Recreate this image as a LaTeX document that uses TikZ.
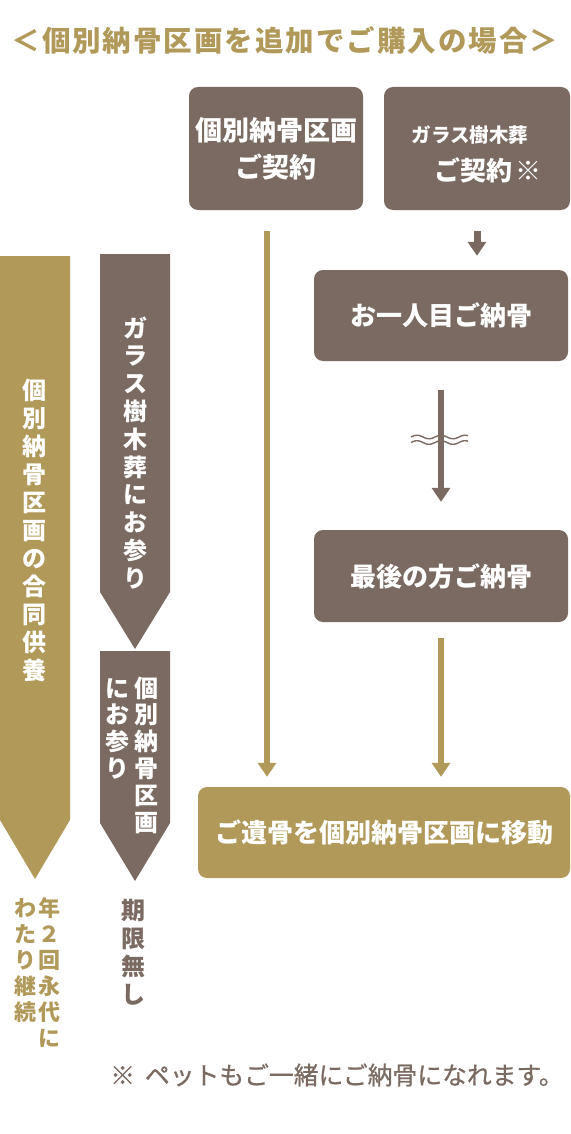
\documentclass[tikz,border=0pt]{standalone}
\usepackage{fontspec}
\setmainfont{Noto Sans CJK JP}
\newfontfamily\jpmed[FakeBold=0.8]{Noto Sans CJK JP}
\usetikzlibrary{arrows.meta}
\definecolor{brn}{HTML}{7A6A61}
\definecolor{gld}{HTML}{B1995A}
\begin{document}
\begin{tikzpicture}[x=1pt,y=-1pt,
  box/.style={rounded corners=9pt, inner sep=0pt, text=white, font=\bfseries\fontsize{26}{26}\selectfont},
  txt/.style={inner sep=0pt},
  vt/.style={inner sep=0pt, text height=21pt, text depth=3pt, font=\bfseries\fontsize{24}{24}\selectfont},
  arr/.style={line width=6pt, -{Triangle[width=18pt,length=14pt]}}]
\useasboundingbox (0,0) rectangle (570,1134);
% title
\node[txt, text=gld, font=\bfseries\fontsize{28.5}{28.5}\selectfont\addfontfeatures{LetterSpace=7}] (title) at (285,40) {＜個別納骨区画を追加でご購入の場合＞};
% boxes
\node[box, fill=brn, minimum width=174pt, minimum height=123pt, align=center,
  font=\bfseries\fontsize{27}{37}\selectfont] (b1) at (276,148.5) {個別納骨区画\\ご契約};
\node[box, fill=brn, minimum width=186pt, minimum height=123pt] (b2) at (477,148.5) {};
\node[txt, text=white, font=\bfseries\fontsize{19.5}{20}\selectfont] (b2a) at (470,135) {ガラス樹木葬};
\node[txt, text=white, font=\bfseries\fontsize{26}{26}\selectfont] (b2b) at (488,170) {ご契約\hspace{4pt}※};
\node[box, fill=brn, minimum width=254pt, minimum height=91pt] (b3) at (441,315.5) {お一人目ご納骨};
\node[box, fill=brn, minimum width=254pt, minimum height=92pt] (b4) at (441,576) {最後の方ご納骨};
\node[box, fill=gld, minimum width=372pt, minimum height=91pt] (b5) at (384,832.5) {ご遺骨を個別納骨区画に移動};
% waves
\foreach \yy in {437,442.5}
  \draw[brn, line width=1.4pt] plot[domain=0:57, samples=70, smooth] ({411+\x}, {\yy - 1.8*sin(\x/24*360)});
% arrows
\coordinate (a1) at (267,231);
\draw[arr, gld, shorten >=10pt] (a1) -- (a1 |- b5.north);
\draw[arr, brn, line width=7pt, shorten <=21pt, shorten >=14pt] (b2.south) -- (b2.south |- b3.north);
\draw[arr, brn, shorten <=29pt, shorten >=28pt] (b3.south) -- (b4.north);
\draw[arr, gld, shorten <=16pt, shorten >=10pt] (b4.south) -- (b4.south |- b5.north);
% banners
\fill[gld] (0,256) -- (70,256) -- (70,820) -- (35,879) -- (0,820) -- cycle;
\fill[brn] (100,254) -- (170,254) -- (170,592) -- (135,649) -- (100,592) -- cycle;
\fill[brn] (100,651) -- (170,651) -- (170,823) -- (135,881) -- (100,823) -- cycle;
% vertical texts
\foreach \c [count=\i from 0] in {個,別,納,骨,区,画,の,合,同,供,養}
  \node[vt, text=white] (g\i) at (34, 390+28*\i) {\c};
\foreach \c [count=\i from 0] in {ガ,ラ,ス,樹,木,葬,に,お,参,り}
  \node[vt, text=white] (m\i) at (135, 328+27.8*\i) {\c};
\foreach \c [count=\i from 0] in {個,別,納,骨,区,画}
  \node[vt, text=white] (p\i) at (146, 688+26.8*\i) {\c};
\foreach \c [count=\i from 0] in {に,お,参,り}
  \node[vt, text=white] (q\i) at (117, 688+26.8*\i) {\c};
\foreach \c [count=\i from 0] in {年,２,回,永,代,に}
  \node[vt, text=gld, font=\bfseries\fontsize{22}{22}\selectfont] (r\i) at (49, 907+26*\i) {\c};
\foreach \c [count=\i from 0] in {わ,た,り,継,続}
  \node[vt, text=gld, font=\bfseries\fontsize{22}{22}\selectfont] (s\i) at (25, 907+26*\i) {\c};
\foreach \c [count=\i from 0] in {期,限,無,し}
  \node[vt, text=brn, font=\bfseries\fontsize{24}{24}\selectfont] (k\i) at (133, 910+28*\i) {\c};
% footnote
\node[txt, anchor=west, text=brn, font=\jpmed\fontsize{24.8}{24.8}\selectfont] (fn) at (110,1075) {※\hspace{10pt}ペットもご一緒にご納骨になれます。};
\end{tikzpicture}
\end{document}
